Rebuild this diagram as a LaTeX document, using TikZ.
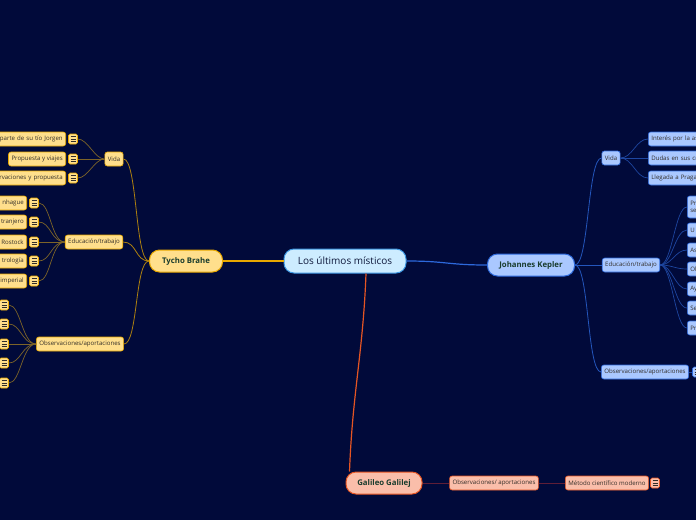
\documentclass[tikz,border=0pt]{standalone}
\usepackage{fontspec}
\setmainfont{Open Sans}
\usepackage{xcolor}
\usepackage{tikz}
\definecolor{fondo}{RGB}{1,10,58}
\definecolor{raizfill}{RGB}{205,236,255}
\definecolor{raizline}{RGB}{60,150,225}
\definecolor{tychofill}{RGB}{255,223,140}
\definecolor{tycholine}{RGB}{232,168,0}
\definecolor{tychorama}{RGB}{125,100,40}
\definecolor{keplerfill}{RGB}{170,200,255}
\definecolor{keplerline}{RGB}{45,105,220}
\definecolor{keplerrama}{RGB}{30,70,160}
\definecolor{galifill}{RGB}{250,190,170}
\definecolor{galiline}{RGB}{230,85,35}
\definecolor{galirama}{RGB}{95,30,55}
\definecolor{textotema}{RGB}{25,60,45}
\definecolor{textohoja}{RGB}{50,45,40}
\definecolor{textoraiz}{RGB}{15,25,60}

\begin{document}
\begin{tikzpicture}[x=1pt, y=-1pt,
        raiz/.style={draw=raizline, fill=raizfill, line width=1pt, rounded corners=10pt,
                     minimum width=122pt, minimum height=24pt, inner sep=0pt,
                     font=\fontsize{10}{12}\selectfont, text=textoraiz},
        tema/.style={line width=1pt, rounded corners=10pt, minimum height=22pt, inner sep=0pt,
                     font=\fontsize{7.8}{10}\selectfont\bfseries, text=textotema},
        hoja/.style={line width=0.6pt, rounded corners=2.5pt, minimum height=14pt,
                     inner xsep=3pt, inner ysep=0pt, font=\fontsize{6.1}{7}\selectfont, text=textohoja},
        nota/.style={line width=0.6pt, rounded corners=1.5pt, minimum width=9pt, minimum height=10pt,
                     inner sep=0pt, path picture={\foreach \d in {-2.2,0,2.2}
                        \draw[line width=0.7pt, textohoja] ([xshift=-2.5pt, yshift=\d pt]path picture bounding box.center) -- ++(5,0);}},
        tycho/.style={draw=tycholine, fill=tychofill},
        kepler/.style={draw=keplerline, fill=keplerfill},
        gali/.style={draw=galiline, fill=galifill},
        izq/.style={anchor=east, text width=100pt, align=right},
        der/.style={anchor=west, text width=100pt, align=left},
        conT/.style={tycholine, line width=1.2pt},
        conK/.style={keplerline, line width=1.2pt},
        conG/.style={galiline, line width=1.2pt},
        ramaT/.style={tycholine!75!fondo, line width=0.8pt},
        ramaK/.style={keplerline!80!fondo, line width=0.8pt},
        hiloT/.style={tychorama, line width=0.7pt},
        hiloK/.style={keplerrama, line width=0.7pt},
        hiloG/.style={galirama, line width=1pt}
    ]
        \path[use as bounding box, fill=fondo] (0,0) rectangle (696,520);

        \node[raiz] (raiz) at (345,261) {Los últimos místicos};
        \node[tema, tycho, minimum width=73pt] (tycho) at (186,261) {Tycho Brahe};
        \node[tema, kepler, minimum width=87pt] (kepler) at (531,265) {Johannes Kepler};
        \node[tema, gali, minimum width=76pt] (galileo) at (384,483) {Galileo Galilej};

        \node[hoja, tycho] (tvida) at (114,159) {Vida};
        \node[hoja, tycho] (tedu)  at (94,242)  {Educación/trabajo};
        \node[hoja, tycho] (tobs)  at (80,344)  {Observaciones/aportaciones};

        \node[hoja, tycho, izq] (tv1) at (66,139) {parte de su tío Jorgen};
        \node[hoja, tycho, anchor=east] (tv2) at (66,159) {Propuesta y viajes};
        \node[hoja, tycho, izq] (tv3) at (66,178) {rvaciones y propuesta};
        \node[nota, tycho] (ntv1) at (73,139) {};
        \node[nota, tycho] (ntv2) at (73,159) {};
        \node[nota, tycho] (ntv3) at (73,178) {};

        \node[hoja, tycho, izq] (te1) at (27,203) {nhague};
        \node[hoja, tycho, izq] (te2) at (27,222) {tranjero};
        \node[hoja, tycho, izq] (te3) at (27,242) {Rostock};
        \node[hoja, tycho, izq] (te4) at (27,261) {trología};
        \node[hoja, tycho, izq] (te5) at (27,281) {imperial};
        \node[nota, tycho] (nte1) at (34,203) {};
        \node[nota, tycho] (nte2) at (34,222) {};
        \node[nota, tycho] (nte3) at (34,242) {};
        \node[nota, tycho] (nte4) at (34,261) {};
        \node[nota, tycho] (nte5) at (34,281) {};

        \node[nota, tycho] (nto1) at (4,305) {};
        \node[nota, tycho] (nto2) at (4,324) {};
        \node[nota, tycho] (nto3) at (4,344) {};
        \node[nota, tycho] (nto4) at (4,363) {};
        \node[nota, tycho] (nto5) at (4,383) {};

        \node[hoja, kepler] (kvida) at (611,158) {Vida};
        \node[hoja, kepler] (kedu)  at (631,265) {Educación/trabajo};
        \node[hoja, kepler] (kobs)  at (645,372) {Observaciones/aportaciones};
        \node[nota, kepler] (nko)   at (697,372) {};

        \node[hoja, kepler, der] (kv1) at (648,139) {Interés por la as};
        \node[hoja, kepler, der] (kv2) at (648,158) {Dudas en sus cr};
        \node[hoja, kepler, der] (kv3) at (648,178) {Llegada a Praga};

        \node[hoja, kepler, der, minimum height=22pt] (ke1) at (687,207) {Pr\\se};
        \node[hoja, kepler, der] (ke2) at (687,230) {U};
        \node[hoja, kepler, der] (ke3) at (687,250) {As};
        \node[hoja, kepler, der] (ke4) at (687,269) {Ob};
        \node[hoja, kepler, der] (ke5) at (687,289) {Ay};
        \node[hoja, kepler, der] (ke6) at (687,308) {Se};
        \node[hoja, kepler, der] (ke7) at (687,328) {Pr};

        \node[hoja, gali] (gobs) at (494,483) {Observaciones/ aportaciones};
        \node[hoja, gali] (gmet) at (607,483) {Método científico moderno};
        \node[nota, gali] (nmet) at (655,483) {};

        \draw[conT] (tycho.east) -- (raiz.west);
        \draw[conK] (raiz.east) .. controls +(40,0) and +(-40,0) .. (kepler.west);
        \draw[conG] ([xshift=21pt]raiz.south) .. controls +(-3,80) and +(3,-80) .. ([xshift=4pt]galileo.north west);

        \draw[ramaT] (tycho.west) .. controls +(-14,0) and +(14,0) .. (tvida.east);
        \draw[ramaT] (tycho.west) .. controls +(-14,0) and +(14,0) .. (tedu.east);
        \draw[ramaT] (tycho.west) .. controls +(-14,0) and +(14,0) .. (tobs.east);
        \draw[hiloT] (tvida.west) .. controls +(-10,0) and +(10,0) .. (ntv1.east);
        \draw[hiloT] (tvida.west) -- (ntv2.east);
        \draw[hiloT] (tvida.west) .. controls +(-10,0) and +(10,0) .. (ntv3.east);
        \draw[hiloT] (tedu.west) .. controls +(-14,0) and +(12,0) .. (nte1.east);
        \draw[hiloT] (tedu.west) .. controls +(-14,0) and +(12,0) .. (nte2.east);
        \draw[hiloT] (tedu.west) -- (nte3.east);
        \draw[hiloT] (tedu.west) .. controls +(-14,0) and +(12,0) .. (nte4.east);
        \draw[hiloT] (tedu.west) .. controls +(-14,0) and +(12,0) .. (nte5.east);
        \draw[hiloT] (tobs.west) .. controls +(-14,0) and +(12,0) .. (nto1.east);
        \draw[hiloT] (tobs.west) .. controls +(-14,0) and +(12,0) .. (nto2.east);
        \draw[hiloT] (tobs.west) -- (nto3.east);
        \draw[hiloT] (tobs.west) .. controls +(-14,0) and +(12,0) .. (nto4.east);
        \draw[hiloT] (tobs.west) .. controls +(-14,0) and +(12,0) .. (nto5.east);

        \draw[ramaK] (kepler.east) .. controls +(14,0) and +(-14,0) .. (kvida.west);
        \draw[ramaK] (kepler.east) -- (kedu.west);
        \draw[ramaK] (kepler.east) .. controls +(14,0) and +(-14,0) .. (kobs.west);
        \draw[hiloK] (kvida.east) .. controls +(12,0) and +(-12,0) .. (kv1.west);
        \draw[hiloK] (kvida.east) -- (kv2.west);
        \draw[hiloK] (kvida.east) .. controls +(12,0) and +(-12,0) .. (kv3.west);
        \draw[hiloK] (kedu.east) .. controls +(12,0) and +(-12,0) .. (ke1.west);
        \draw[hiloK] (kedu.east) .. controls +(12,0) and +(-12,0) .. (ke2.west);
        \draw[hiloK] (kedu.east) .. controls +(12,0) and +(-12,0) .. (ke3.west);
        \draw[hiloK] (kedu.east) .. controls +(12,0) and +(-12,0) .. (ke4.west);
        \draw[hiloK] (kedu.east) .. controls +(12,0) and +(-12,0) .. (ke5.west);
        \draw[hiloK] (kedu.east) .. controls +(12,0) and +(-12,0) .. (ke6.west);
        \draw[hiloK] (kedu.east) .. controls +(12,0) and +(-12,0) .. (ke7.west);
        \draw[hiloK] (kobs.east) -- (nko.west);

        \draw[hiloG] (galileo.east) -- (gobs.west);
        \draw[hiloG] (gobs.east) -- (gmet.west);
    \end{tikzpicture}
\end{document}
